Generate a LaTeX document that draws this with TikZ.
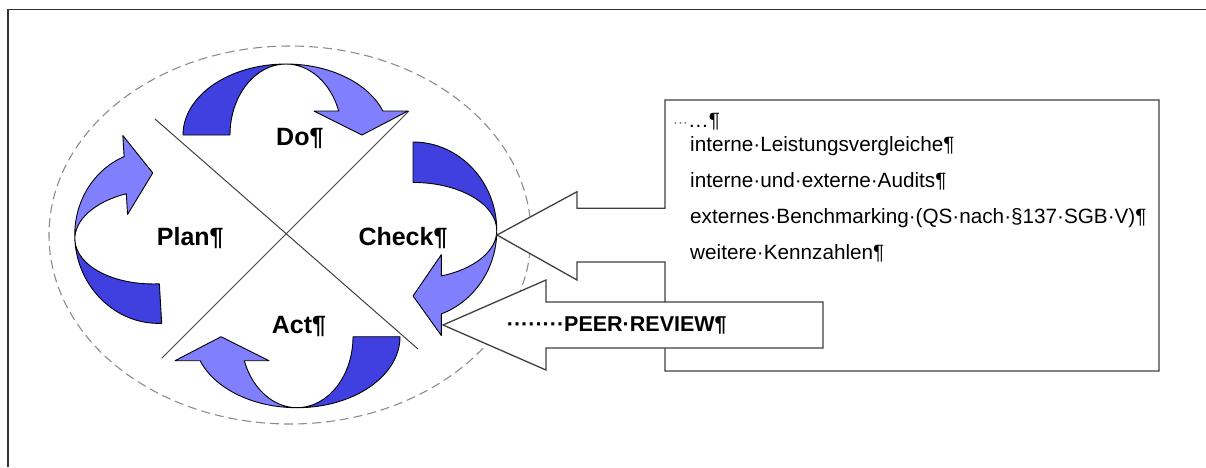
\documentclass[tikz,border=0pt]{standalone}
\usepackage{fontspec}
\setmainfont{Liberation Sans}
\definecolor{pdcdark}{RGB}{64,64,224}
\definecolor{pdclight}{RGB}{128,128,255}
\newcommand{\pdcaband}{%
  \draw[darkhalf] (0,0) .. controls (0,39.2) and (46.1,71) .. (103,71)
    .. controls (72.1,71) and (47,39.2) .. (47,0) -- cycle;
  \draw[lighthalf] (103,71) .. controls (146.5,71) and (185.2,52.2) .. (199.9,24)
    -- (225,24) -- (179,0) -- (131,24) -- (155.7,24)
    .. controls (147.7,52.2) and (126.6,71) .. (103,71) -- cycle;}
\begin{document}
\begin{tikzpicture}[x=1pt,y=-1pt,
    darkhalf/.style={draw=black,line width=0.9pt,fill=pdcdark,line join=round},
    lighthalf/.style={draw=black,line width=0.9pt,fill=pdclight,line join=round},
    callout/.style={draw=black!75,line width=1.3pt,fill=white},
    phase/.style={anchor=base west,inner sep=0pt,font=\fontsize{25}{30}\selectfont\bfseries},
    boxline/.style={anchor=base west,inner sep=0pt,font=\fontsize{20.7}{25}\selectfont}]
  \useasboundingbox (0,0) rectangle (1206,467);
  \draw[black!80,line width=1.8pt] (8,467) -- (8,9.5) -- (1206,9.5);
  \draw[black!45,line width=1.1pt,dash pattern=on 9pt off 5pt] (290,235) ellipse [x radius=241,y radius=189];
  \draw[black!75,line width=1pt] (155,119) -- (418,349);
  \draw[black!75,line width=1pt] (409,111) -- (162,358);
  % Plan -> Do -> Check -> Act
  \begin{scope}[shift={(183,135)},x={(1pt,0pt)},y={(0pt,1pt)}]
    \pdcaband
  \end{scope}
  \begin{scope}[shift={(413,142)},x={(0pt,-0.86pt)},y={(1.18pt,0pt)}]
    \pdcaband
  \end{scope}
  \begin{scope}[shift={(400,336.7)},x={(-1pt,0pt)},y={(0pt,-1pt)}]
    \pdcaband
  \end{scope}
  \begin{scope}[shift={(161.7,323.3)},x={(-0.05pt,0.84pt)},y={(-1.15pt,-0.05pt)}]
    \pdcaband
  \end{scope}
  \node[phase] (do) at (276,145) {Do¶};
  \node[phase] (plan) at (156.7,245) {Plan¶};
  \node[phase] (check) at (358.3,245) {Check¶};
  \node[phase] (act) at (271.7,333.3) {Act¶};
  \coordinate (checktip) at (497,235);
  \coordinate (peertip) at (443,325);
  \draw[callout] (665,100) -- (1159,100) -- (1159,371) -- (665,371) -- (665,262)
    -- (577,262) -- (577,280) -- (checktip) -- (577,191.7) -- (577,208.3)
    -- (665,208.3) -- cycle;
  \draw[callout] (823,302) -- (823,348) -- (546,348) -- (546,370) -- (peertip)
    -- (546,280) -- (546,302) -- cycle;
  \node[boxline] (dots) at (673,127) {{\color{blue!30!black!60}\fontsize{15}{15}\selectfont···}…¶};
  \node[boxline] (l1) at (690,151.5) {interne·Leistungsvergleiche¶};
  \node[boxline] (l2) at (690,187.5) {interne·und·externe·Audits¶};
  \node[boxline] (l3) at (690,223.5) {externes·Benchmarking·(QS·nach·§137·SGB·V)¶};
  \node[boxline] (l4) at (690,259.5) {weitere·Kennzahlen¶};
  \node[boxline,font=\fontsize{21.5}{25}\selectfont\bfseries] (peer) at (506.7,331.7) {········PEER·REVIEW¶};
\end{tikzpicture}
\end{document}
